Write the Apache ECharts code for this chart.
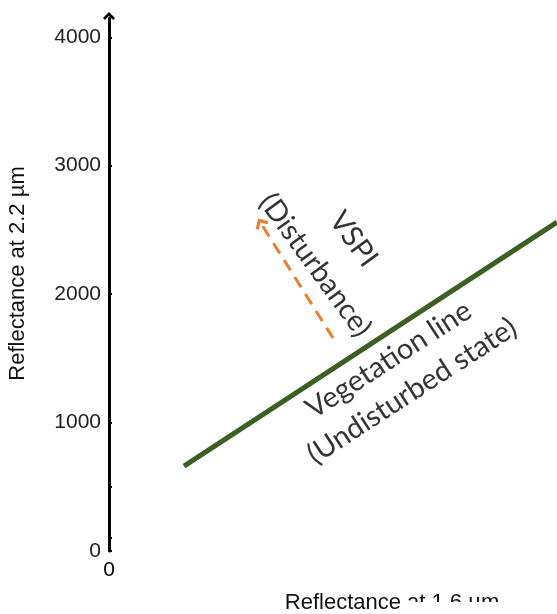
<!DOCTYPE html>
<html>
<head>
<meta charset="utf-8">
<script src="https://cdn.jsdelivr.net/npm/echarts@6/dist/echarts.min.js"></script>
<style>html,body{margin:0;padding:0;background:#fff;}#c{width:557px;height:614px;}</style>
</head>
<body>
<div id="c"></div>
<script>
// Tick labels / ticks
const yLabelValues = [0, 1000, 2000, 3000, 4000];
const yTickValues = [0, 100, 500, 1000, 2000, 3000, 4000];
const xLabelValues = [0];
// Vegetation line (undisturbed state)
const vegX = [586, 3500];
const vegY = [661, 2560];
// VSPI disturbance arrow (tail -> tip)
const vspiX = [1750, 1185];
const vspiY = [1658, 2555];
// Annotations
const annotTexts = ['VSPI', '(Disturbance)', 'Vegetation line', '(Undisturbed state)'];
const annotX = [1910, 1612, 2185, 2367];
const annotY = [2428, 2226, 1490, 1245];
const annotRot = [-54, -54, 33, 33];

const chart = echarts.init(document.getElementById('c'));
const chevron = 'path://M0,10 L10,0 L20,10 L17,13 L10,6 L3,13 Z';
const sans = 'Liberation Sans, Arial, sans-serif';
chart.setOption({
  animation: false,
  backgroundColor: '#fff',
  grid: { left: 109, right: 0, top: 18, bottom: 63, containLabel: false, outerBoundsMode: 'none' },
  xAxis: {
    type: 'value', min: 0, max: 3500,
    axisLine: { show: false }, axisTick: { show: false }, splitLine: { show: false },
    axisLabel: { customValues: xLabelValues, margin: 9, fontSize: 21, color: '#000', fontFamily: sans, formatter: v => String(v) },
    name: 'Reflectance at 1.6 µm', nameLocation: 'middle', nameGap: 41,
    nameTextStyle: { fontSize: 22, color: '#111', fontFamily: sans, padding: [0, 0, 0, 118] }
  },
  yAxis: {
    type: 'value', min: 0, max: 4150,
    axisLine: { show: true, lineStyle: { color: '#000', width: 3 }, symbol: ['none', chevron], symbolSize: [12, 9], symbolOffset: [0, 2] },
    axisTick: { show: true, inside: true, length: 3, lineStyle: { color: '#000', width: 2 }, customValues: yTickValues },
    splitLine: { show: false },
    axisLabel: { customValues: yLabelValues, margin: 8, fontSize: 21, color: '#222', fontFamily: sans, formatter: v => String(v) },
    name: 'Reflectance at 2.2 µm', nameLocation: 'middle', nameGap: 80, nameRotate: 90,
    nameTextStyle: { fontSize: 22, color: '#111', fontFamily: sans, padding: [0, 0, 0, 22] }
  },
  series: [
    {
      type: 'line', name: 'Vegetation line', symbol: 'none',
      data: vegX.map((x, i) => [x, vegY[i]]),
      lineStyle: { color: '#3d5f24', width: 5 }, z: 3
    },
    {
      type: 'line', name: 'VSPI',
      data: vspiX.map((x, i) => ({
        value: [x, vspiY[i]],
        symbol: i === vspiX.length - 1 ? chevron : 'none',
        symbolSize: [15, 10], symbolRotate: 32
      })),
      showAllSymbol: true,
      itemStyle: { color: '#ed7d31' },
      lineStyle: { color: '#ed7d31', width: 3, type: [12, 8] }, z: 3
    },
    {
      type: 'scatter', symbolSize: 0, silent: true,
      data: annotTexts.map((t, i) => ({
        value: [annotX[i], annotY[i]],
        label: { show: true, formatter: t, rotate: annotRot[i], position: 'inside', align: 'center', verticalAlign: 'middle',
          fontSize: 29, color: '#000', fontFamily: 'Lato, Open Sans, sans-serif' }
      })), z: 4
    }
  ],
  graphic: [
    { type: 'rect', shape: { x: 402, y: 602, width: 155, height: 12 }, style: { fill: '#fff' }, z: 100 }
  ]
});
</script>
</body>
</html>
